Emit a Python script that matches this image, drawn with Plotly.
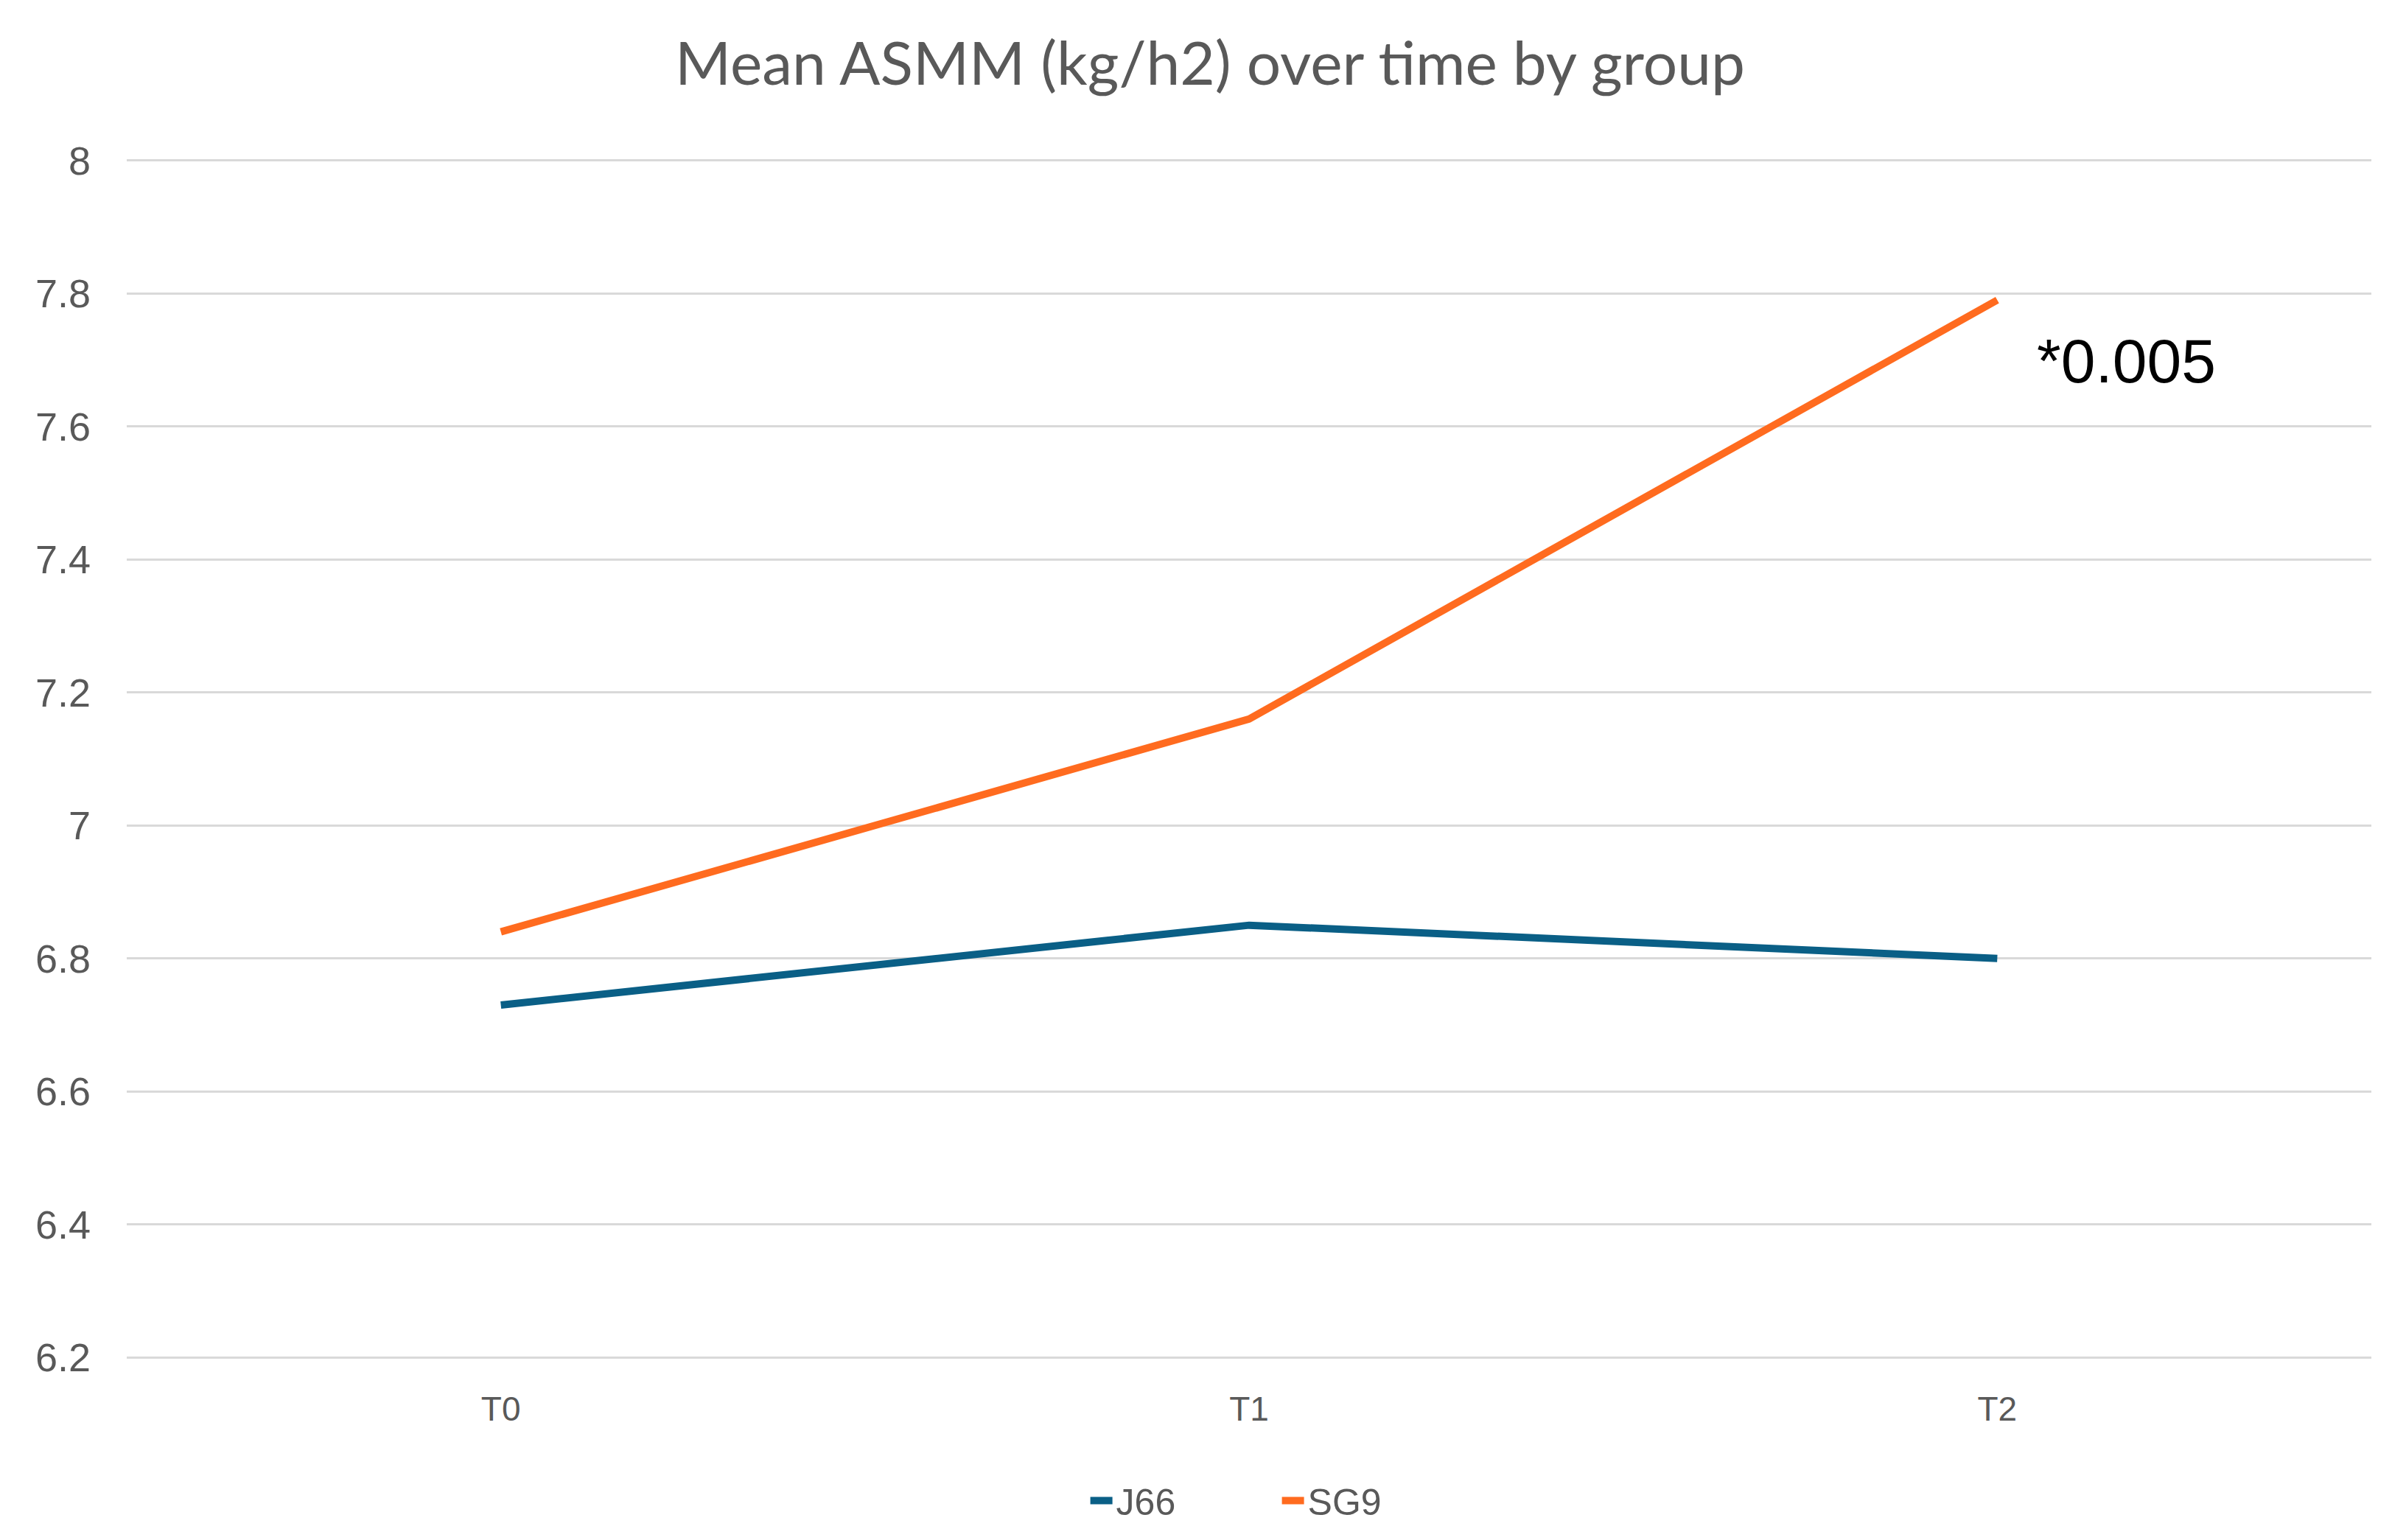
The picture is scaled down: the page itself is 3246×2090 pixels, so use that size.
import plotly.graph_objects as go

categories = ["T0", "T1", "T2"]
j66_values = [6.73, 6.85, 6.80]
sg9_values = [6.84, 7.16, 7.79]
y_ticks = [6.2, 6.4, 6.6, 6.8, 7.0, 7.2, 7.4, 7.6, 7.8, 8.0]
y_tick_labels = ["6.2", "6.4", "6.6", "6.8", "7", "7.2", "7.4", "7.6", "7.8", "8"]
annotation_text = "*0.005"

W, H = 3246, 2090
fig = go.Figure()
fig.add_trace(go.Scatter(x=categories, y=j66_values, name="J66", mode="lines",
                         line=dict(color="#0A5F86", width=10)))
fig.add_trace(go.Scatter(x=categories, y=sg9_values, name="SG9", mode="lines",
                         line=dict(color="#FF6B1F", width=10)))

fig.add_annotation(x=2, y=7.698, xref="x", yref="y", text=annotation_text,
                   showarrow=False, xanchor="left", yanchor="middle", xshift=52,
                   font=dict(family="Liberation Sans", size=84, color="#000000"))

fig.update_layout(
    width=W, height=H,
    paper_bgcolor="white", plot_bgcolor="white",
    margin=dict(l=172, r=28, t=215, b=245, autoexpand=False),
    title=dict(text="Mean ASMM (kg/h2) over time by group", x=1642 / W, xanchor="center",
               y=1 - 86 / H, yanchor="middle", yref="container", xref="container",
               font=dict(family="Lato", size=82, color="#595959")),
    xaxis=dict(type="category", range=[-0.5, 2.5], showgrid=False, zeroline=False,
               showline=False, ticks="", ticklabelstandoff=36, automargin=False,
               tickfont=dict(family="Liberation Sans Narrow, Liberation Sans", size=46, color="#595959")),
    yaxis=dict(range=[6.197, 8.003], tickvals=y_ticks, ticktext=y_tick_labels,
               showgrid=True, gridcolor="#D9D9D9", gridwidth=3, zeroline=False,
               showline=False, ticks="", ticklabelstandoff=48, automargin=False,
               tickfont=dict(family="Liberation Sans", size=54, color="#595959")),
    legend=dict(orientation="h", x=0.513, xanchor="center", y=-0.1175, yanchor="middle",
                font=dict(family="Liberation Sans", size=50, color="#595959"),
                entrywidth=215, entrywidthmode="pixels"),
    showlegend=True,
)

fig.write_html("out.html", config={"displayModeBar": False},
               post_script="document.body.style.margin='0';document.body.style.overflow='hidden';")
